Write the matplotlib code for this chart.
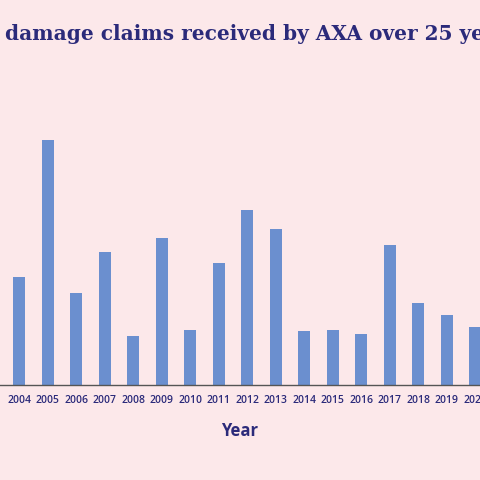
import matplotlib
matplotlib.use("Agg")
import matplotlib.pyplot as plt

# Storm damage claims (units arbitrary)
years = list(range(2003, 2021))
claims = [0, 108, 245, 92, 133, 49, 147, 55, 122, 175, 156, 54, 55, 51, 140, 82, 70, 58]

BG = "#fce8ea"
NAVY = "#2b2a7a"
BAR = "#6b8fcf"

fig = plt.figure(figsize=(4.8, 4.8), dpi=100, facecolor=BG)
ax = fig.add_axes([0, 1 - 385 / 480, 1, 285 / 480], facecolor=BG)

ax.bar(years, claims, width=0.42, color=BAR)

for s in ["top", "right", "left"]:
    ax.spines[s].set_visible(False)
ax.spines["bottom"].set_color("#555555")
ax.spines["bottom"].set_linewidth(1)
ax.set_yticks([])
ax.set_xticks(years)
ax.set_xticklabels([str(y) for y in years], fontsize=7.5, color=NAVY,
                   fontweight="semibold", family="Open Sans")
ax.tick_params(axis="x", length=0, pad=7)
ax.set_xlabel("Year", fontsize=12, color=NAVY, fontweight="bold",
              family="Open Sans", labelpad=12)
# limits after ticks so the off-range 2003 tick doesn't widen the view
ax.set_xlim(2003.33, 2003.33 + 480 / 28.5)
ax.set_ylim(0, 285)

fig.text(0.01, 0.93, "damage claims received by AXA over 25 years",
         fontsize=14.5, color=NAVY, fontweight="bold", family="DejaVu Serif",
         ha="left", va="center")

fig.savefig("out.png", facecolor=BG)
